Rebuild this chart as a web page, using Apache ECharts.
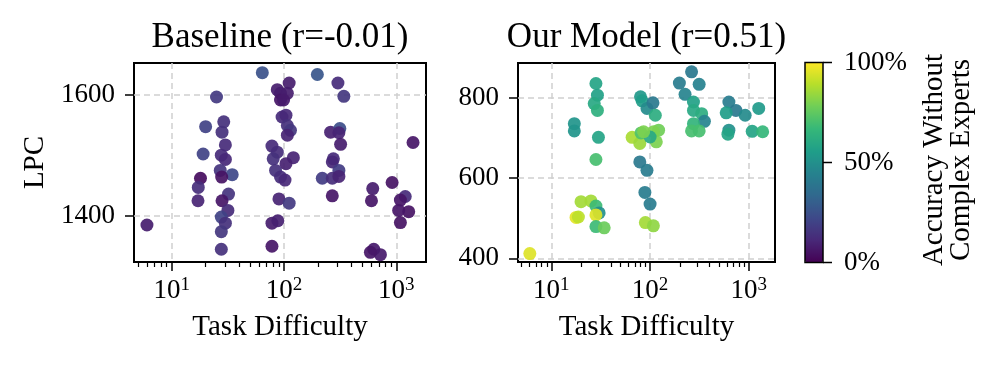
<!DOCTYPE html>
<html>
<head>
<meta charset="utf-8">
<script src="https://cdn.jsdelivr.net/npm/echarts@6/dist/echarts.min.js"></script>
<style>
    html, body { margin: 0; padding: 0; background: #fff; }
    #chart { width: 996px; height: 365px; }
</style>
</head>
<body>
<div id="chart"></div>
<script>
// ---- data ----
var baseDifficulty = [6, 64, 25, 20, 19, 18, 17.2, 17.1, 29, 28, 30, 27.6, 30, 27, 34.5, 27.8, 32, 28, 31.6, 27.6, 30, 27.6, 27.6,
    78, 87, 80, 84, 93, 90, 78, 88, 78, 87, 93, 93, 96, 111, 107, 99, 104, 107, 114, 107, 121, 104, 102, 111,
    198, 302, 341, 260, 314, 308, 319, 275, 269, 308, 219, 269, 308, 269,
    617, 601, 918, 630, 722, 588, 1410, 1202, 1088, 1290, 1050, 1088];
var baseLPC = [1385, 1636, 1596, 1547, 1502, 1462, 1447, 1425, 1555, 1538, 1517, 1500, 1493, 1475, 1468, 1464, 1436, 1425, 1409, 1398, 1388, 1374, 1345,
    1515, 1505, 1494, 1475, 1464, 1428, 1388, 1392, 1350, 1608, 1602, 1591, 1563, 1619, 1602, 1591, 1566, 1549, 1541, 1533, 1496, 1486, 1459, 1421,
    1633, 1619, 1597, 1538, 1544, 1537, 1518, 1494, 1489, 1475, 1462, 1462, 1465, 1433,
    1445, 1425, 1455, 1345, 1336, 1340, 1521, 1432, 1426, 1407, 1409, 1389];
var baseAcc = [8, 25, 17, 20, 20, 3, 13, 10, 14, 14, 12, 12, 11, 15, 22, 5, 15, 6, 12, 20, 14, 16, 14,
    12, 13, 14, 14, 13, 10, 8, 9, 6, 8, 8, 6, 12, 8, 8, 7, 11, 14, 16, 10, 10, 9, 11, 17,
    27, 12, 16, 9, 24, 10, 8, 12, 11, 18, 18, 13, 10, 6,
    8, 6, 5, 7, 7, 6, 6, 12, 6, 5, 6, 5];

var modelDifficulty = [6.06, 28.3, 29.3, 27.2, 29.3, 17.1, 17.1, 30, 28.3, 20, 25.2, 17.8, 18.8, 28.3, 30.5, 28.3, 28.3, 34.3,
    80, 83, 93, 65.8, 78.7, 81, 78.7, 93, 88.6, 100, 89.6, 108, 107, 113, 122, 108.6, 115.6, 100, 86,
    198, 263, 314, 226, 275, 275, 333, 355, 275, 263, 314,
    628, 740, 590, 918, 1259, 628, 614, 1081, 1380];
var modelLPC = [412, 835, 806, 785, 768, 735, 717, 701, 646, 541, 543, 502, 503, 530, 513, 508, 479, 476,
    802, 792, 773, 701, 686, 712, 640, 619, 564, 535, 489, 481, 787, 756, 719, 715, 690, 702, 715,
    836, 864, 833, 808, 789, 768, 760, 741, 735, 717, 717,
    789, 768, 762, 756, 773, 719, 709, 716, 715];
var modelAcc = [95, 58, 57, 60, 63, 52, 52, 58, 70, 86, 86, 96, 90, 68, 50, 95, 68, 77,
    53, 55, 48, 87, 85, 72, 40, 42, 42, 42, 86, 83, 40, 62, 78, 80, 80, 60, 80,
    42, 40, 44, 45, 57, 60, 62, 45, 65, 70, 70,
    42, 40, 55, 48, 54, 50, 58, 58, 66];

var titles = ['Baseline (r=-0.01)', 'Our Model (r=0.51)'];
var xMajor = [10, 100, 1000];
var xMinor = [5, 6, 7, 8, 9, 20, 30, 40, 50, 60, 70, 80, 90, 200, 300, 400, 500, 600, 700, 800, 900];
var baseTicks = [1400, 1600];
var modelTicks = [400, 600, 800];
var barTicks = ['0%', '50%', '100%'];

var viridis = ['#440154', '#482878', '#3e4989', '#31688e', '#26828e',
    '#1f9e89', '#35b779', '#6ece58', '#b5de2b', '#fde725'];

var FONT = "'Liberation Serif', 'DejaVu Serif', serif";

function zip(xs, ys, cs) {
    return xs.map(function (x, i) { return [x, ys[i], cs[i]]; });
}

var grids = [
    {left: 134, top: 63, width: 292, height: 199},
    {left: 518, top: 63, width: 257, height: 199}
];

function majorXAxis(gi) {
    return {
        type: 'log', logBase: 10, gridIndex: gi, min: 4.6, max: 1840,
        position: 'bottom',
        name: 'Task Difficulty', nameLocation: 'middle', nameGap: 51,
        nameTextStyle: {fontFamily: FONT, fontSize: 29, color: '#000'},
        axisLine: {show: false},
        axisTick: {customValues: xMajor, length: 9, lineStyle: {color: '#000', width: 1.5}},
        axisLabel: {
            customValues: xMajor, margin: 14,
            formatter: function (v) {
                return '{b|10}{e|' + Math.round(Math.log10(v)) + '}';
            },
            rich: {
                b: {fontFamily: FONT, fontSize: 27, lineHeight: 30, color: '#000'},
                e: {fontFamily: FONT, fontSize: 19, lineHeight: 19, verticalAlign: 'top', color: '#000'}
            }
        },
        splitLine: {show: true, lineStyle: {color: '#d0d0d0', width: 1.5, type: [6, 4]}}
    };
}

function minorXAxis(gi) {
    return {
        type: 'log', logBase: 10, gridIndex: gi, min: 4.6, max: 1840,
        position: 'bottom',
        axisLine: {show: false},
        axisTick: {customValues: xMinor, length: 5, lineStyle: {color: '#000', width: 1.2}},
        axisLabel: {show: false},
        splitLine: {show: false}
    };
}

function yAxis(gi, min, max, ticks, name) {
    return {
        type: 'value', gridIndex: gi, min: min, max: max,
        name: name, nameLocation: 'middle', nameGap: 84, nameRotate: 90,
        nameTextStyle: {fontFamily: FONT, fontSize: 29, color: '#000'},
        axisLine: {show: false},
        axisTick: {customValues: ticks, length: 9, lineStyle: {color: '#000', width: 1.5}},
        axisLabel: {
            customValues: ticks, margin: 19, fontFamily: FONT, fontSize: 27, color: '#000',
            formatter: function (v) { return String(v); }
        },
        splitLine: {show: true, lineStyle: {color: '#d0d0d0', width: 1.5, type: [6, 4]}}
    };
}

var chart = echarts.init(document.getElementById('chart'), null, {renderer: 'canvas'});

// colorbar frame, ticks and labels
var barLeft = 805, barTop = 62.5, barW = 18, barH = 200;
var barGraphics = [{
    type: 'rect', z: 10,
    shape: {x: barLeft, y: barTop, width: barW, height: barH},
    style: {fill: null, stroke: '#000', lineWidth: 1.5}
}];
barTicks.forEach(function (t, i) {
    var y = barTop + barH - i * barH / 2;
    barGraphics.push({
        type: 'line', z: 10,
        shape: {x1: barLeft + barW, y1: y, x2: barLeft + barW + 9, y2: y},
        style: {stroke: '#000', lineWidth: 1.5}
    });
    barGraphics.push({
        type: 'text', z: 10, x: barLeft + barW + 21, y: y,
        style: {text: t, fontFamily: FONT, fontSize: 27, fill: '#000', align: 'left', verticalAlign: 'middle'}
    });
});
barGraphics.push({
    type: 'text', z: 10, x: 948, y: 160, rotation: Math.PI / 2,
    style: {
        text: 'Accuracy Without\nComplex Experts', fontFamily: FONT, fontSize: 29, lineHeight: 27,
        fill: '#000', align: 'center', verticalAlign: 'middle'
    }
});

chart.setOption({
    backgroundColor: '#fff',
    animation: false,
    textStyle: {fontFamily: FONT},
    title: titles.map(function (t, i) {
        return {
            text: t, left: grids[i].left + grids[i].width / 2, top: 20, textAlign: 'center', padding: 0,
            textStyle: {fontFamily: FONT, fontSize: 35, fontWeight: 'normal', color: '#000'}
        };
    }),
    grid: grids.map(function (g) {
        return {
            left: g.left, top: g.top, width: g.width, height: g.height,
            show: true, borderColor: '#000', borderWidth: 2, backgroundColor: 'transparent',
            outerBoundsMode: 'none'
        };
    }),
    xAxis: [majorXAxis(0), minorXAxis(0), majorXAxis(1), minorXAxis(1)],
    yAxis: [
        yAxis(0, 1324, 1652, baseTicks, 'LPC'),
        yAxis(1, 391, 886, modelTicks, '')
    ],
    visualMap: {
        type: 'continuous', min: 0, max: 100, dimension: 2, seriesIndex: [0, 1],
        orient: 'vertical', left: barLeft, top: barTop, padding: 0,
        itemWidth: barW, itemHeight: barH, calculable: false, hoverLink: false,
        inRange: {color: viridis}
    },
    graphic: barGraphics,
    series: [
        {
            type: 'scatter', xAxisIndex: 0, yAxisIndex: 0, symbolSize: 13,
            itemStyle: {opacity: 0.92},
            data: zip(baseDifficulty, baseLPC, baseAcc)
        },
        {
            type: 'scatter', xAxisIndex: 2, yAxisIndex: 1, symbolSize: 13,
            itemStyle: {opacity: 0.92},
            data: zip(modelDifficulty, modelLPC, modelAcc)
        }
    ]
});
</script>
</body>
</html>
